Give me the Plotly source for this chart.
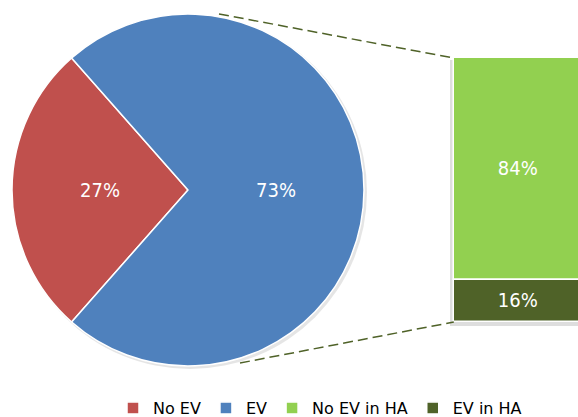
import math
import plotly.graph_objects as go

pie_labels = ["No EV", "EV"]
pie_values = [27, 73]
pie_colors = ["#C0504D", "#4F81BD"]

bar_labels = ["No EV in HA", "EV in HA"]
bar_values = [84, 16]
bar_colors = ["#92D050", "#4F6228"]

W, H = 578, 417


def px(x):
    return x / W


def py(y):
    return 1 - y / H


font_lbl = "DejaVu Sans Condensed, DejaVu Sans, sans-serif"
font_leg = "DejaVu Sans, sans-serif"

fig = go.Figure()

cx, cy, r = 188, 190, 176
rotation = 221.4
fig.add_trace(go.Pie(
    labels=pie_labels, values=pie_values, sort=False,
    direction="clockwise", rotation=rotation,
    marker=dict(colors=pie_colors, line=dict(color="white", width=1.5)),
    textinfo="none",
    domain=dict(x=[px(cx - r), px(cx + r)], y=[py(cy + r), py(cy - r)]),
    hoverinfo="label+percent", legendrank=1,
))

total = sum(pie_values)
start = rotation
for v in pie_values:
    sweep = 360.0 * v / total
    mid = math.radians(start + sweep / 2)
    lx = cx + 0.5 * r * math.sin(mid)
    ly = cy - 0.5 * r * math.cos(mid)
    fig.add_annotation(x=px(lx), y=py(ly), xref="paper", yref="paper",
                       xanchor="center", yanchor="middle",
                       text=f"{round(100 * v / total)}%", showarrow=False,
                       font=dict(color="white", size=20, family=font_lbl))
    start += sweep

bases = [bar_values[1], 0]
ax0 = 440
for i, (lab, val, col) in enumerate(zip(bar_labels, bar_values, bar_colors)):
    fig.add_trace(go.Bar(
        x=[0.568], y=[val], base=[bases[i]], width=[0.936], name=lab,
        marker=dict(color=col, line=dict(color="white", width=1.5)),
        text=[f"{val}%"], textposition="inside", insidetextanchor="middle",
        textfont=dict(color="white", size=20, family=font_lbl),
        legendrank=10 + i,
    ))

# soft shadows
fig.add_shape(type="circle", xref="paper", yref="paper", layer="below",
              x0=px(cx - r + 1), x1=px(cx + r + 3), y0=py(cy + r + 3), y1=py(cy - r + 1),
              fillcolor="rgba(0,0,0,0.10)", line=dict(width=0))
fig.add_shape(type="rect", xref="paper", yref="paper", layer="below",
              x0=px(450), x1=1, y0=py(326), y1=py(60),
              fillcolor="rgba(0,0,0,0.13)", line=dict(width=0))

bar_left = px(ax0) + 0.1 * (1 - px(ax0))
line_style = dict(color="#4F6228", width=1.5, dash="10px,5px")
fig.add_shape(type="line", xref="paper", yref="paper", x0=px(219), y0=py(14),
              x1=bar_left, y1=py(58), line=line_style)
fig.add_shape(type="line", xref="paper", yref="paper", x0=px(240), y0=py(363),
              x1=bar_left, y1=py(322), line=line_style)

fig.update_layout(
    width=W, height=H, margin=dict(l=0, r=0, t=0, b=0, autoexpand=False),
    paper_bgcolor="white", plot_bgcolor="rgba(0,0,0,0)",
    barmode="overlay", bargap=0,
    xaxis=dict(domain=[px(ax0), 1], range=[0, 1], visible=False, fixedrange=True),
    yaxis=dict(domain=[py(322), py(58)], range=[0, 100], visible=False, fixedrange=True),
    showlegend=True,
    legend=dict(orientation="h", x=px(113), xanchor="left", y=py(408), yanchor="middle",
                font=dict(family=font_leg, size=16, color="#000000"),
                itemwidth=30, traceorder="normal"),
)

fig.write_html("out.html", config={"displayModeBar": False}, post_script=(
    "document.body.style.margin='0';"
    "document.documentElement.style.overflow='hidden';"
    "document.body.style.overflow='hidden';"))
